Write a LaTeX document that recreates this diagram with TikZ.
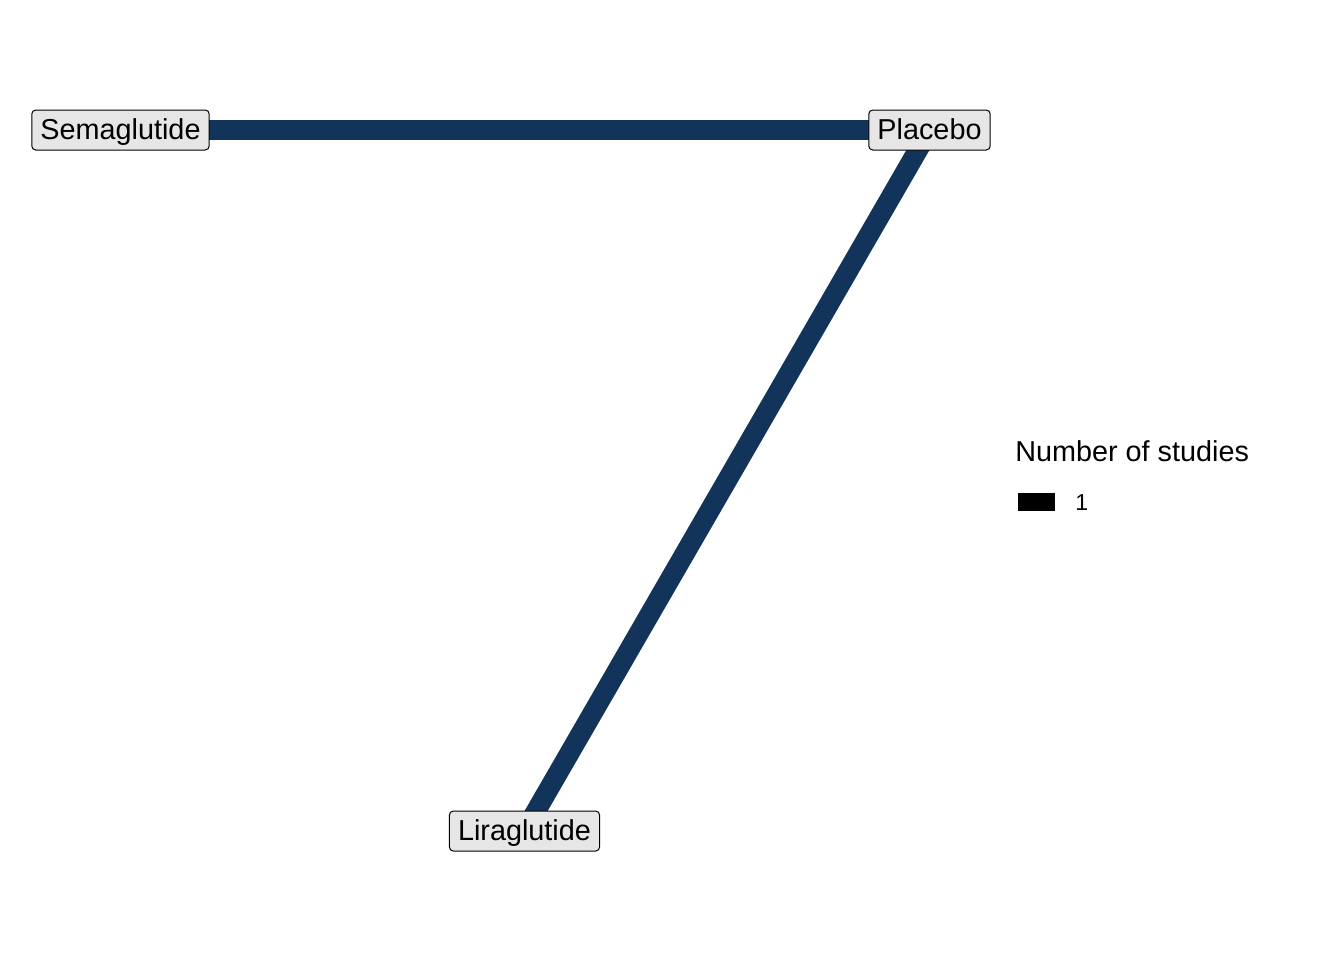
\documentclass[tikz,border=0pt]{standalone}
\usepackage{fontspec}
\setmainfont{Liberation Sans}
\usetikzlibrary{backgrounds}
\definecolor{edgeblue}{RGB}{18,51,90}
\definecolor{labelgrey}{RGB}{230,230,230}
\begin{document}
\begin{tikzpicture}[x=0.75pt,y=-0.75pt]
  \tikzstyle{trt} = [draw, line width=0.75pt, rounded corners=3pt, fill=labelgrey,
    inner xsep=6.5pt, inner ysep=0pt, minimum height=30pt,
    text height=17.1pt, text depth=2.9pt, font=\fontsize{21.6}{26}\selectfont]
  \tikzstyle{e} = [line width=15pt, color=edgeblue];
  \useasboundingbox (0,0) rectangle (1344,960);

  \node[trt](sema) at (120.5,130){Semaglutide};
  \node[trt](plac) at (929.5,130){Placebo};
  \node[trt](lira) at (524.5,831){Liraglutide};

  \begin{scope}[on background layer]
  \draw[e](sema.center)--(plac.center);
  \draw[e](plac.center)--(lira.center);
  \end{scope}

  % legend
  \node[anchor=base west, inner sep=0pt, font=\fontsize{21.6}{26}\selectfont](legtitle) at (1015,461){Number of studies};
  \node[fill=black, inner sep=0pt, minimum width=27.75pt, minimum height=13.5pt](legkey) at (1036.5,502){};
  \node[anchor=base west, inner sep=0pt, font=\fontsize{17.3}{21}\selectfont](legone) at (1075,510){1};
\end{tikzpicture}
\end{document}
